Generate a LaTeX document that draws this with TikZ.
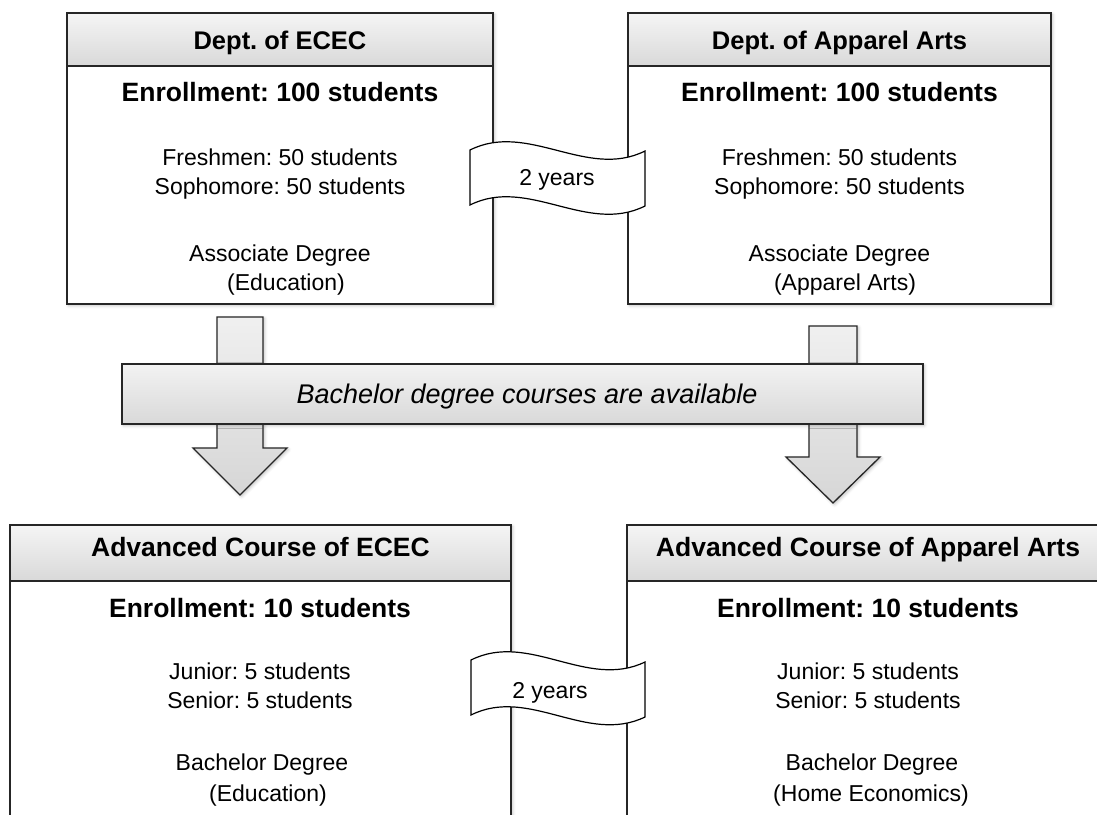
\documentclass[tikz,border=0pt]{standalone}
\usepackage{fontspec}
\setmainfont{Liberation Sans}
\usetikzlibrary{shadows.blur}
\frenchspacing
\begin{document}
\begin{tikzpicture}[x=1pt,y=-1pt,
  shad/.style={blur shadow={shadow xshift=1.5pt,shadow yshift=-1.5pt,shadow blur radius=3pt,shadow opacity=25}},
  hdr/.style={draw=black!85,line width=1.3pt,top color=gray!8,bottom color=gray!30,inner sep=0pt},
  barbox/.style={draw=black!85,line width=1.3pt,top color=gray!10,bottom color=gray!30,shad,inner sep=0pt},
  bodybox/.style={draw=black!85,line width=1.3pt,fill=white,shad,inner sep=0pt},
  blockarrow/.style={draw=black!85,line width=1.3pt,top color=gray!12,bottom color=gray!32,shad},
  wave/.style={draw=black,line width=1.2pt,fill=white},
  htxt/.style={anchor=base,inner sep=0pt,font=\fontsize{25.5}{30}\selectfont\bfseries\frenchspacing},
  hbtxt/.style={anchor=base,inner sep=0pt,font=\fontsize{26.5}{31}\selectfont\bfseries\frenchspacing},
  btxt/.style={anchor=base,inner sep=0pt,font=\fontsize{26.5}{31}\selectfont\bfseries\frenchspacing},
  ntxt/.style={anchor=base,inner sep=0pt,font=\fontsize{23}{28}\selectfont\frenchspacing},
  itxt/.style={anchor=base,inner sep=0pt,font=\fontsize{27}{32}\selectfont\itshape\frenchspacing}
]
\useasboundingbox (0,0) rectangle (1097,814);
\begin{scope}
\clip (0,0) rectangle (1097,814);

% ---- top-left box ----
\node[bodybox,minimum width=426pt,minimum height=291pt] (b1) at (280,158.5) {};
\node[hdr,minimum width=426pt,minimum height=53pt] (h1) at (280,39.5) {};
\node[htxt] (h1t) at (280,49) {Dept. of ECEC};
\node[btxt] (e1) at (280,101) {Enrollment: 100 students};
\node[ntxt] (f1) at (280,165) {Freshmen: 50 students};
\node[ntxt] (s1) at (280,194) {Sophomore: 50 students};
\node[ntxt] (a1) at (280,261) {Associate Degree};
\node[ntxt] (d1) at (286,290) {(Education)};

% ---- top-right box ----
\node[bodybox,minimum width=423pt,minimum height=291pt] (b2) at (839.5,158.5) {};
\node[hdr,minimum width=423pt,minimum height=53pt] (h2) at (839.5,39.5) {};
\node[htxt] (h2t) at (839.5,49) {Dept. of Apparel Arts};
\node[btxt] (e2) at (839.5,101) {Enrollment: 100 students};
\node[ntxt] (f2) at (839.5,165) {Freshmen: 50 students};
\node[ntxt] (s2) at (839.5,194) {Sophomore: 50 students};
\node[ntxt] (a2) at (839.5,261) {Associate Degree};
\node[ntxt] (d2) at (845,290) {(Apparel Arts)};

% ---- top wave ----
\draw[wave] (470,150) .. controls (528,121) and (587,180) .. (645,151)
  -- (645,206) .. controls (587,235) and (528,176) .. (470,205) -- cycle;
\node[ntxt] (w1) at (557,185) {2 years};

% ---- block arrows ----
\draw[blockarrow] (217,317) -- (263,317) -- (263,448) -- (287,448) -- (240,495)
  -- (193,448) -- (217,448) -- cycle;
\draw[blockarrow] (809,326) -- (857,326) -- (857,457) -- (880,457) -- (833,503)
  -- (786,457) -- (809,457) -- cycle;

% ---- bar ----
\node[barbox,minimum width=801pt,minimum height=60pt] (bar) at (522.5,394) {};
\node[itxt] (bart) at (527,403.5) {Bachelor degree courses are available};

% ---- bottom-left box ----
\node[bodybox,minimum width=501pt,minimum height=316pt] (b3) at (260.5,683) {};
\node[hdr,minimum width=501pt,minimum height=56pt] (h3) at (260.5,553) {};
\node[hbtxt] (h3t) at (260.5,556.5) {Advanced Course of ECEC};
\node[btxt] (e3) at (260,617) {Enrollment: 10 students};
\node[ntxt] (j3) at (260,679) {Junior: 5 students};
\node[ntxt] (s3) at (260,708) {Senior: 5 students};
\node[ntxt] (a3) at (262,770) {Bachelor Degree};
\node[ntxt] (d3) at (268,801) {(Education)};

% ---- bottom-right box ----
\node[bodybox,minimum width=490pt,minimum height=316pt] (b4) at (872,683) {};
\node[hdr,minimum width=490pt,minimum height=56pt] (h4) at (872,553) {};
\node[hbtxt] (h4t) at (868,556.5) {Advanced Course of Apparel Arts};
\node[btxt] (e4) at (868,617) {Enrollment: 10 students};
\node[ntxt] (j4) at (868,679) {Junior: 5 students};
\node[ntxt] (s4) at (868,708) {Senior: 5 students};
\node[ntxt] (a4) at (872,770) {Bachelor Degree};
\node[ntxt] (d4) at (871,801) {(Home Economics)};

% ---- bottom wave ----
\draw[wave] (471,660) .. controls (529,631) and (587,690) .. (645,662)
  -- (645,717) .. controls (587,745) and (529,686) .. (471,715) -- cycle;
\node[ntxt] (w2) at (550,698) {2 years};
\end{scope}
\end{tikzpicture}
\end{document}
